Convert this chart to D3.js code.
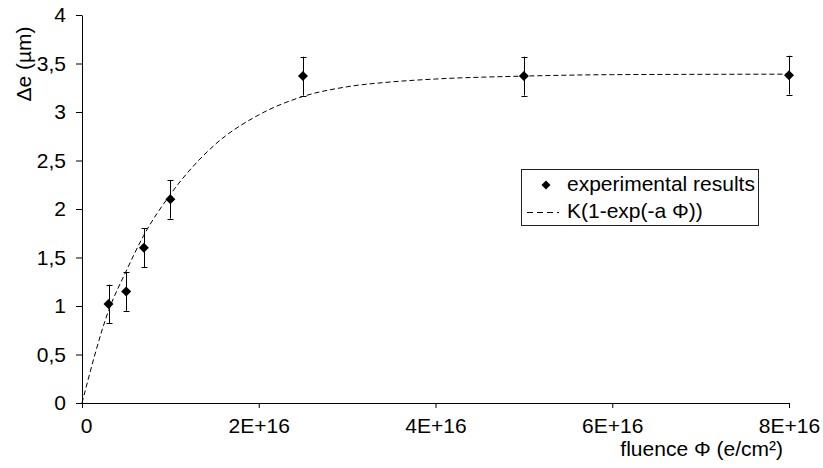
<!DOCTYPE html>
<html>
<head>
<meta charset="utf-8">
<script src="https://cdn.jsdelivr.net/npm/d3@7"></script>
<style>
  body { margin: 0; background: #fff; }
  svg text { font-family: Arial, "Liberation Sans", sans-serif; font-size: 21px; fill: #000; }
</style>
</head>
<body>
<div id="chart"></div>
<script>
// measured points
var fluence = [3e15, 5e15, 7e15, 1e16, 2.5e16, 5e16, 8e16];
var thickness = [1.02, 1.15, 1.6, 2.1, 3.37, 3.37, 3.38];
var errors = [0.2, 0.2, 0.2, 0.2, 0.2, 0.2, 0.2];

// fitted curve K(1-exp(-a phi))
var fitFluence = [0, 3e15, 5e15, 7e15, 1e16, 1.5e16, 2e16, 2.5e16, 3e16, 3.5e16, 4e16, 5e16, 6e16, 8e16];
var fitThickness = [0, 0.95, 1.36, 1.73, 2.15, 2.66, 2.97, 3.16, 3.26, 3.31, 3.34, 3.37, 3.385, 3.39];

var xTicks = [0, 2e16, 4e16, 6e16, 8e16];
var yTicks = [0, 0.5, 1, 1.5, 2, 2.5, 3, 3.5, 4];
var legendLabels = ["experimental results", "K(1-exp(-a \u03A6))"];

var width = 823, height = 468;

var svg = d3.select("#chart").append("svg")
    .attr("width", width)
    .attr("height", height);

var x = d3.scaleLinear().domain([0, 8e16]).range([82, 789]);
var y = d3.scaleLinear().domain([0, 4]).range([403, 15]);

var yAxis = d3.axisLeft(y)
    .tickValues(yTicks)
    .tickSize(6)
    .tickSizeOuter(0)
    .tickPadding(10)
    .tickFormat(function(d) { return String(d).replace(".", ","); });

var xAxis = d3.axisBottom(x)
    .tickValues(xTicks)
    .tickSize(5)
    .tickSizeOuter(0)
    .tickPadding(10)
    .tickFormat(function(d) { return d === 0 ? "0" : (d / 1e16) + "E+16"; });

var gy = svg.append("g")
    .attr("transform", "translate(" + x(0) + ",0)")
    .call(yAxis);

var gx = svg.append("g")
    .attr("transform", "translate(0," + y(0) + ")")
    .call(xAxis);

svg.selectAll(".domain, .tick line").attr("stroke", "#000");
svg.selectAll(".tick text").attr("font-size", null).attr("font-family", null);
gx.selectAll(".tick text").filter(function(d) { return d === 0; }).attr("dx", 4);

// axis titles
svg.append("text")
    .attr("transform", "translate(31,64) rotate(-90)")
    .attr("text-anchor", "middle")
    .text("\u0394e (\u00B5m)");

svg.append("text")
    .attr("x", 783)
    .attr("y", 456)
    .attr("text-anchor", "end")
    .text("fluence \u03A6 (e/cm\u00B2)");

// fitted curve
var fit = fitFluence.map(function(f, i) { return [f, fitThickness[i]]; });
var line = d3.line()
    .x(function(d) { return x(d[0]); })
    .y(function(d) { return y(d[1]); })
    .curve(d3.curveMonotoneX);

svg.append("path")
    .datum(fit)
    .attr("d", line)
    .attr("fill", "none")
    .attr("stroke", "#000")
    .attr("stroke-width", 1)
    .attr("stroke-dasharray", "5,3");

// error bars
var pts = fluence.map(function(f, i) { return { f: f, v: thickness[i], e: errors[i] }; });
var capW = 3;
var eb = svg.append("g").attr("stroke", "#000").attr("stroke-width", 1);
pts.forEach(function(d) {
    var cx = Math.round(x(d.f)) + 0.5;
    eb.append("line").attr("x1", cx).attr("x2", cx)
        .attr("y1", y(d.v - d.e)).attr("y2", y(d.v + d.e));
    eb.append("line").attr("x1", cx - capW).attr("x2", cx + capW)
        .attr("y1", Math.round(y(d.v + d.e)) + 0.5).attr("y2", Math.round(y(d.v + d.e)) + 0.5);
    eb.append("line").attr("x1", cx - capW).attr("x2", cx + capW)
        .attr("y1", Math.round(y(d.v - d.e)) + 0.5).attr("y2", Math.round(y(d.v - d.e)) + 0.5);
});

// markers
var diamond = d3.symbol().type(d3.symbolSquare).size(50);
svg.selectAll(".pt")
    .data(pts)
    .enter().append("path")
    .attr("class", "pt")
    .attr("d", diamond)
    .attr("transform", function(d) { return "translate(" + x(d.f) + "," + y(d.v) + ") rotate(45)"; })
    .attr("fill", "#000");

// legend
var lg = svg.append("g");
lg.append("rect")
    .attr("x", 521.5).attr("y", 169.5)
    .attr("width", 237).attr("height", 56)
    .attr("fill", "#fff")
    .attr("stroke", "#222");

lg.append("path")
    .attr("d", d3.symbol().type(d3.symbolSquare).size(40))
    .attr("transform", "translate(546,185) rotate(45)")
    .attr("fill", "#000");

lg.append("line")
    .attr("x1", 527).attr("x2", 559)
    .attr("y1", 212.5).attr("y2", 212.5)
    .attr("stroke", "#000")
    .attr("stroke-dasharray", "6,4");

lg.selectAll(".lt")
    .data(legendLabels)
    .enter().append("text")
    .attr("class", "lt")
    .attr("x", 567)
    .attr("y", function(d, i) { return 191 + i * 27; })
    .text(function(d) { return d; });
</script>
</body>
</html>
